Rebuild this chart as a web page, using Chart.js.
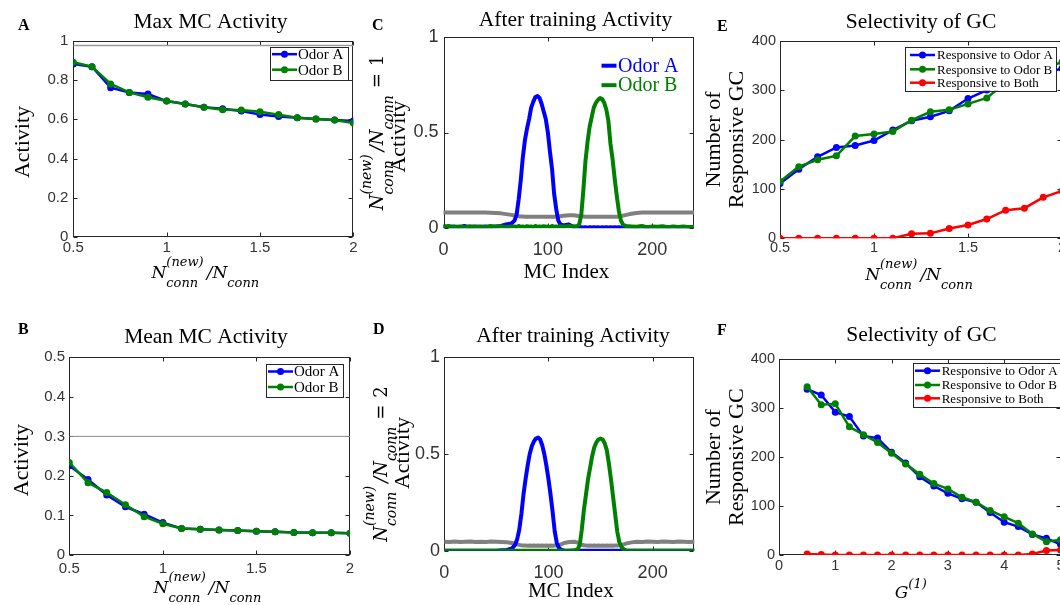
<!DOCTYPE html>
<html lang="en">
<head>
<meta charset="UTF-8">
<title>MC activity and GC selectivity</title>
<script src="https://cdn.jsdelivr.net/npm/chart.js"></script>
<style>
  html, body { margin: 0; padding: 0; background: #fff; }
  body { width: 1060px; height: 605px; overflow: hidden; position: relative; }
  canvas { position: absolute; }
</style>
</head>
<body>
<canvas id="chartA" width="365" height="300" style="left:0px;top:0px"></canvas>
<canvas id="chartB" width="365" height="305" style="left:0px;top:300px"></canvas>
<canvas id="chartC" width="360" height="300" style="left:350px;top:0px"></canvas>
<canvas id="chartD" width="360" height="305" style="left:350px;top:300px"></canvas>
<canvas id="chartE" width="380" height="300" style="left:700px;top:0px"></canvas>
<canvas id="chartF" width="380" height="305" style="left:700px;top:300px"></canvas>
<script>
// ---- data ----
// x axis of panels A, B, E: N_conn(new) / N_conn
const connRatio = [0.5, 0.6, 0.7, 0.8, 0.9, 1.0, 1.1, 1.2, 1.3, 1.4, 1.5, 1.6, 1.7, 1.8, 1.9, 2.0];

// A: max MC activity
const maxActA = [0.881, 0.868, 0.761, 0.737, 0.729, 0.693, 0.678, 0.661, 0.654, 0.642, 0.625, 0.614, 0.608, 0.602, 0.597, 0.592];
const maxActB = [0.890, 0.868, 0.780, 0.737, 0.712, 0.693, 0.678, 0.661, 0.649, 0.647, 0.639, 0.624, 0.608, 0.602, 0.597, 0.581];
const maxRef = 0.975;

// B: mean MC activity
const meanActA = [0.226, 0.191, 0.152, 0.122, 0.103, 0.082, 0.067, 0.065, 0.063, 0.062, 0.060, 0.059, 0.057, 0.056, 0.056, 0.055];
const meanActB = [0.234, 0.183, 0.158, 0.127, 0.097, 0.079, 0.067, 0.065, 0.063, 0.062, 0.060, 0.059, 0.057, 0.056, 0.056, 0.055];
const meanRef = 0.3;

// C, D: activity per MC index after training
const mcIndex = [0, 5, 10, 15, 20, 25, 30, 35, 40, 45, 50, 55, 60, 65,
  68, 70, 72, 74, 76, 78, 80, 82, 84, 86, 88, 90, 92, 94, 96, 98, 100, 102, 104, 106, 108, 110, 112,
  115, 120, 125,
  128, 130, 132, 134, 136, 138, 140, 142, 144, 146, 148, 150, 152, 154, 156, 158, 160, 162, 164, 166, 168, 170, 172,
  175, 180, 185, 190, 195, 200, 205, 210, 215, 220, 225, 230, 235, 240];

const trainA1 = [0.01, 0.005, 0.01, 0.006, 0.012, 0.005, 0.01, 0.007, 0.01, 0.006, 0.01, 0.012, 0.02, 0.025,
  0.04, 0.07, 0.15, 0.25, 0.37, 0.46, 0.52, 0.57, 0.63, 0.66, 0.685, 0.69, 0.68, 0.65, 0.61, 0.57, 0.50, 0.40, 0.31, 0.18, 0.10, 0.04, 0.02,
  0.015, 0.02, 0.006,
  0.005, 0.004, 0.006, 0.004, 0.005, 0.003, 0.005, 0.004, 0.006, 0.004, 0.005, 0.003, 0.005, 0.004, 0.006, 0.004, 0.005, 0.004, 0.006, 0.004, 0.005, 0.004, 0.005,
  0.006, 0.004, 0.005, 0.003, 0.006, 0.004, 0.005, 0.004, 0.006, 0.003, 0.005, 0.004, 0.006, 0.005];
const trainB1 = [0.008, 0.012, 0.006, 0.01, 0.005, 0.011, 0.007, 0.01, 0.006, 0.012, 0.008, 0.01, 0.006, 0.009,
  0.01, 0.007, 0.012, 0.008, 0.01, 0.006, 0.011, 0.008, 0.01, 0.006, 0.012, 0.008, 0.01, 0.007, 0.011, 0.008, 0.01, 0.006, 0.012, 0.008, 0.01, 0.007, 0.011,
  0.008, 0.012, 0.01,
  0.012, 0.02, 0.07, 0.20, 0.35, 0.45, 0.53, 0.58, 0.63, 0.655, 0.67, 0.68, 0.675, 0.655, 0.62, 0.56, 0.44, 0.36, 0.26, 0.17, 0.09, 0.04, 0.02,
  0.012, 0.01, 0.008, 0.012, 0.006, 0.01, 0.008, 0.011, 0.006, 0.01, 0.007, 0.009, 0.006, 0.008];
const trainGray1 = [0.082, 0.083, 0.082, 0.083, 0.082, 0.082, 0.083, 0.082, 0.082, 0.081, 0.080, 0.078, 0.074, 0.070,
  0.067, 0.065, 0.063, 0.062, 0.061, 0.060, 0.060, 0.060, 0.060, 0.060, 0.060, 0.060, 0.060, 0.060, 0.060, 0.060, 0.060, 0.060, 0.060, 0.060, 0.061, 0.062, 0.063,
  0.065, 0.068, 0.068,
  0.066, 0.064, 0.062, 0.061, 0.060, 0.060, 0.060, 0.060, 0.060, 0.060, 0.060, 0.060, 0.060, 0.060, 0.060, 0.060, 0.060, 0.060, 0.060, 0.060, 0.061, 0.063, 0.066,
  0.070, 0.076, 0.080, 0.082, 0.083, 0.083, 0.082, 0.083, 0.082, 0.083, 0.082, 0.083, 0.082, 0.083];

const trainA2 = [0, 0, 0, 0, 0, 0, 0, 0, 0, 0, 0, 0.002, 0.004, 0.012,
  0.03, 0.06, 0.11, 0.19, 0.29, 0.37, 0.44, 0.50, 0.54, 0.565, 0.58, 0.585, 0.575, 0.545, 0.50, 0.44, 0.37, 0.29, 0.20, 0.10, 0.04, 0.015, 0.005,
  0, 0, 0,
  0, 0, 0, 0, 0, 0, 0, 0, 0, 0, 0, 0, 0, 0, 0, 0, 0, 0, 0, 0, 0, 0, 0,
  0, 0, 0, 0, 0, 0, 0, 0, 0, 0, 0, 0, 0, 0];
const trainB2 = [0, 0, 0, 0, 0, 0, 0, 0, 0, 0, 0, 0, 0, 0,
  0, 0, 0, 0, 0, 0, 0, 0, 0, 0, 0, 0, 0, 0, 0, 0, 0, 0, 0, 0, 0, 0, 0,
  0, 0, 0.002,
  0.006, 0.03, 0.11, 0.21, 0.29, 0.37, 0.43, 0.49, 0.535, 0.56, 0.575, 0.58, 0.575, 0.555, 0.52, 0.45, 0.37, 0.28, 0.19, 0.10, 0.045, 0.02, 0.008,
  0, 0, 0, 0, 0, 0, 0, 0, 0, 0, 0, 0, 0, 0];
const trainGray2 = [0.046, 0.045, 0.047, 0.045, 0.046, 0.047, 0.045, 0.046, 0.045, 0.047, 0.046, 0.045, 0.044, 0.040,
  0.036, 0.033, 0.030, 0.028, 0.027, 0.027, 0.026, 0.027, 0.026, 0.027, 0.026, 0.027, 0.026, 0.027, 0.026, 0.027, 0.026, 0.027, 0.026, 0.027, 0.028, 0.030, 0.033,
  0.040, 0.045, 0.046,
  0.042, 0.036, 0.031, 0.028, 0.027, 0.026, 0.027, 0.026, 0.027, 0.026, 0.027, 0.026, 0.027, 0.026, 0.027, 0.026, 0.027, 0.026, 0.027, 0.027, 0.028, 0.030, 0.033,
  0.038, 0.043, 0.046, 0.045, 0.047, 0.046, 0.045, 0.047, 0.046, 0.045, 0.047, 0.046, 0.045, 0.046];

// E: responsive GC vs N_conn ratio
const respA_E = [111, 140, 165, 184, 188, 198, 219, 238, 246, 258, 283, 300, 312, 322, 333, 344];
const respB_E = [115, 145, 159, 167, 207, 211, 216, 239, 256, 260, 272, 284, 315, 328, 342, 357];
const respBoth_E = [0, 0, 0, 0, 0, 0, 0, 9, 10, 20, 27, 39, 57, 61, 83, 96];

// F: responsive GC vs G(1)
const gainG1 = [0.5, 0.75, 1, 1.25, 1.5, 1.75, 2, 2.25, 2.5, 2.75, 3, 3.25, 3.5, 3.75, 4, 4.25, 4.5, 4.75, 5];
const respA_F = [339, 327, 292, 283, 243, 239, 210, 188, 160, 141, 126, 115, 108, 87, 67, 58, 42, 34, 22];
const respB_F = [344, 307, 309, 262, 246, 230, 208, 186, 165, 146, 135, 118, 108, 91, 78, 65, 43, 27, 31];
const respBoth_F = [2, 1, 0, 0, 0, 0, 0, 0, 0, 0, 0, 0, 0, 0, 0, 0, 2, 9, 10];

const BLUE = '#0000ff', GREEN = '#008000', RED = '#ff0000', GRAY = '#808080';
const SERIF = '"Liberation Serif", "Times New Roman", serif';
const MATHF = '"DejaVu Serif", serif';
const SANS = '"Liberation Sans", Arial, sans-serif';

const pts = (xs, ys) => xs.map((x, i) => ({ x: x, y: ys[i] }));

// N_conn^(new) / N_conn written as math
const ratioTokens = [{ t: 'N' }, { sup: '(new)', sub: 'conn' }, { gap: 3 }, { t: '/N' }, { sub: 'conn' }];
const equals = n => [{ gap: 7 }, { t: '=', up: true }, { gap: 7 }, { t: n, up: true }];

function drawMath(ctx, tokens, x, y, size) {
    const main = 'italic ' + size + 'px ' + MATHF;
    const scr = 'italic ' + Math.round(size * 0.78) + 'px ' + MATHF;
    const up = size + 'px ' + MATHF;
    const widths = tokens.map(tk => {
        if (tk.gap) return tk.gap;
        if (tk.t !== undefined) { ctx.font = tk.up ? up : main; return ctx.measureText(tk.t).width; }
        ctx.font = scr;
        return Math.max(tk.sup ? ctx.measureText(tk.sup).width : 0, tk.sub ? ctx.measureText(tk.sub).width : 0);
    });
    const total = widths.reduce((s, w) => s + w, 0);
    let cx = x - total / 2;
    ctx.textAlign = 'left';
    ctx.textBaseline = 'alphabetic';
    tokens.forEach((tk, i) => {
        if (tk.t !== undefined) {
            ctx.font = tk.up ? up : main;
            ctx.fillText(tk.t, cx, y);
        } else if (!tk.gap) {
            ctx.font = scr;
            if (tk.sup) ctx.fillText(tk.sup, cx, y - size * (tk.sub ? 0.7 : 0.6));
            if (tk.sub) ctx.fillText(tk.sub, cx, y + size * 0.53);
        }
        cx += widths[i];
    });
}

function drawLabel(ctx, lab, x, y) {
    ctx.fillStyle = '#000';
    if (lab.math) {
        drawMath(ctx, lab.math, x, y, lab.size || 17);
    } else {
        ctx.font = (lab.size || 22) + 'px ' + SERIF;
        ctx.textAlign = 'center';
        ctx.textBaseline = 'alphabetic';
        ctx.fillText(lab.t, x, y);
    }
}

function drawLegend(ctx, chart, lg) {
    const a = chart.chartArea;
    const bx = a.left + lg.dx, by = a.top + lg.dy;
    const items = chart.data.datasets.filter(d => d.label);
    if (lg.w) {
        ctx.fillStyle = '#fff';
        ctx.fillRect(bx, by, lg.w, lg.h);
        ctx.strokeStyle = '#262626';
        ctx.lineWidth = 1;
        ctx.strokeRect(Math.round(bx) + 0.5, Math.round(by) + 0.5, Math.round(lg.w), Math.round(lg.h));
    }
    items.forEach((d, i) => {
        const y = by + lg.rows[i];
        ctx.strokeStyle = d.borderColor;
        ctx.lineWidth = d.borderWidth;
        ctx.beginPath();
        ctx.moveTo(bx + lg.x0, y);
        ctx.lineTo(bx + lg.x1, y);
        ctx.stroke();
        if (d.pointRadius) {
            ctx.fillStyle = d.borderColor;
            ctx.beginPath();
            ctx.arc(bx + (lg.x0 + lg.x1) / 2, y, d.pointRadius, 0, Math.PI * 2);
            ctx.fill();
        }
        ctx.fillStyle = lg.colorText ? d.borderColor : '#000';
        ctx.font = lg.size + 'px ' + SERIF;
        ctx.textAlign = 'left';
        ctx.textBaseline = 'middle';
        ctx.fillText(d.label, bx + lg.tx, y + 1);
    });
}

// MATLAB-like box and inward ticks under the data, then legend, titles and labels
const figPlugin = {
    id: 'fig',
    beforeDatasetsDraw(chart) {
        const ctx = chart.ctx, a = chart.chartArea;
        const xs = chart.scales.x, ys = chart.scales.y;
        ctx.save();
        const L = Math.round(a.left) + 0.5, T = Math.round(a.top) + 0.5;
        const R = Math.round(a.right) - 0.5, B = Math.round(a.bottom) - 0.5;
        ctx.strokeStyle = '#262626';
        ctx.lineWidth = 1;
        ctx.strokeRect(L, T, R - L, B - T);
        ctx.beginPath();
        xs.ticks.forEach(t => {
            const p = Math.round(xs.getPixelForValue(t.value)) + 0.5;
            ctx.moveTo(p, B); ctx.lineTo(p, B - 4);
            ctx.moveTo(p, T); ctx.lineTo(p, T + 4);
        });
        ys.ticks.forEach(t => {
            const p = Math.round(ys.getPixelForValue(t.value)) + 0.5;
            ctx.moveTo(L, p); ctx.lineTo(L + 4, p);
            ctx.moveTo(R, p); ctx.lineTo(R - 4, p);
        });
        ctx.stroke();
        ctx.restore();
    },
    afterDatasetsDraw(chart, args, o) {
        if (!o.legend) return;
        chart.ctx.save();
        drawLegend(chart.ctx, chart, o.legend);
        chart.ctx.restore();
    },
    afterDraw(chart, args, o) {
        const ctx = chart.ctx, a = chart.chartArea;
        const midX = (a.left + a.right) / 2, midY = (a.top + a.bottom) / 2;
        ctx.save();
        ctx.fillStyle = '#000';
        ctx.font = 'bold 16px ' + SERIF;
        ctx.textAlign = 'left';
        ctx.textBaseline = 'alphabetic';
        ctx.fillText(o.letter.t, o.letter.x, o.letter.y);
        ctx.font = '21.5px ' + SERIF;
        ctx.textAlign = 'center';
        ctx.fillText(o.title.t, midX + o.title.dx, a.top + o.title.dy);
        drawLabel(ctx, o.xlabel, midX + o.xlabel.dx, a.bottom + o.xlabel.dy);
        o.ylabel.forEach(lab => {
            ctx.save();
            ctx.translate(a.left + lab.dx, midY + (lab.dy || 0));
            ctx.rotate(-Math.PI / 2);
            drawLabel(ctx, lab, 0, 0);
            ctx.restore();
        });
        ctx.restore();
    }
};

const fmt = v => String(Math.round(v * 1000) / 1000);

function axis(min, max, step, size, pad, fit) {
    return {
        type: 'linear', min: min, max: max,
        grid: { display: false, drawTicks: false },
        border: { display: false },
        ticks: { stepSize: step, includeBounds: false, autoSkip: false, maxRotation: 0,
                 padding: pad, color: '#333', font: { family: SANS, size: size }, callback: fmt },
        afterFit: fit
    };
}

function markerSet(label, xs, ys, color, order) {
    return { label: label, data: pts(xs, ys), borderColor: color, backgroundColor: color,
             borderWidth: 2.5, pointRadius: 3.5, pointBorderWidth: 0, showLine: true, order: order };
}
function traceSet(label, xs, ys, color, order) {
    return { label: label, data: pts(xs, ys), borderColor: color, backgroundColor: color,
             borderWidth: 4, pointRadius: 0, showLine: true, order: order,
             borderJoinStyle: 'round', borderCapStyle: 'round' };
}
function refSet(x0, x1, y, color, width) {
    return { data: [{ x: x0, y: y }, { x: x1, y: y }], borderColor: color, borderWidth: width,
             pointRadius: 0, showLine: true, order: 9 };
}

function makePanel(id, p) {
    new Chart(document.getElementById(id), {
        type: 'scatter',
        data: { datasets: p.datasets },
        options: {
            responsive: false,
            animation: false,
            layout: { padding: { top: p.top, right: p.right, left: 0, bottom: 0 } },
            plugins: { legend: { display: false }, tooltip: { enabled: false }, fig: p.fig },
            scales: {
                x: axis(p.x[0], p.x[1], p.x[2], p.tick, p.xpad, s => { s.height = p.xh; }),
                y: axis(p.y[0], p.y[1], p.y[2], p.tick, p.ypad, s => { s.width = p.yw; })
            }
        },
        plugins: [figPlugin]
    });
}

const legend2 = { rows: [7.5, 23], x0: 2, x1: 27, tx: 28, size: 15 };

makePanel('chartA', {
    datasets: [
        markerSet('Odor A', connRatio, maxActA, BLUE, 2),
        markerSet('Odor B', connRatio, maxActB, GREEN, 1),
        refSet(0.5, 2, maxRef, '#9a9a9a', 1.5)
    ],
    x: [0.5, 2, 0.5], y: [0, 1, 0.2], tick: 15, xpad: 1.5, ypad: 5,
    yw: 73.3, xh: 62.7, top: 40.7, right: 11.7,
    fig: {
        letter: { t: 'A', x: 18, y: 30 },
        title: { t: 'Max MC Activity', dx: -2.8, dy: -12.4 },
        xlabel: { math: ratioTokens, dx: -8, dy: 40.7 },
        ylabel: [{ t: 'Activity', dx: -44.8, dy: 3 }],
        legend: Object.assign({ dx: 196.7, dy: 6, w: 78.3, h: 33.3 }, legend2)
    }
});

makePanel('chartB', {
    datasets: [
        markerSet('Odor A', connRatio, meanActA, BLUE, 2),
        markerSet('Odor B', connRatio, meanActB, GREEN, 1),
        refSet(0.5, 2, meanRef, '#8c8c8c', 1)
    ],
    x: [0.5, 2, 0.5], y: [0, 0.5, 0.1], tick: 15, xpad: 5, ypad: 4.3,
    yw: 69.3, xh: 50, top: 57.3, right: 15,
    fig: {
        letter: { t: 'B', x: 18, y: 34 },
        title: { t: 'Mean MC Activity', dx: -3.7, dy: -14.6 },
        xlabel: { math: ratioTokens, dx: -2.2, dy: 38.3 },
        ylabel: [{ t: 'Activity', dx: -41.3, dy: 4 }],
        legend: Object.assign({ dx: 196.7, dy: 6.7, w: 77.3, h: 33.3 }, legend2)
    }
});

makePanel('chartC', {
    datasets: [
        traceSet('Odor A', mcIndex, trainA1, BLUE, 2),
        traceSet('Odor B', mcIndex, trainB1, GREEN, 1),
        traceSet(undefined, mcIndex, trainGray1, GRAY, 3)
    ],
    x: [0, 240, 100], y: [0, 1, 0.5], tick: 18, xpad: 11, ypad: 5,
    yw: 93.5, xh: 71.7, top: 36.7, right: 16,
    fig: {
        letter: { t: 'C', x: 22, y: 30 },
        title: { t: 'After training Activity', dx: 6.7, dy: -10.7 },
        xlabel: { t: 'MC Index', size: 21, dx: -2.3, dy: 49.7 },
        ylabel: [{ math: ratioTokens.concat(equals('1')), size: 18, dx: -60.2, dy: 0 },
                 { t: 'Activity', dx: -38.5, dy: 4 }],
        legend: { dx: 158, dy: 29, rows: [0, 19.5], x0: 0, x1: 15, tx: 16.5, size: 20, colorText: true }
    }
});

makePanel('chartD', {
    datasets: [
        traceSet('Odor A', mcIndex, trainA2, BLUE, 2),
        traceSet('Odor B', mcIndex, trainB2, GREEN, 1),
        traceSet(undefined, mcIndex, trainGray2, GRAY, 3)
    ],
    x: [0, 240, 100], y: [0, 1, 0.5], tick: 18, xpad: 11.8, ypad: 4.3,
    yw: 94.3, xh: 54.3, top: 57.3, right: 15.7,
    fig: {
        letter: { t: 'D', x: 23, y: 34 },
        title: { t: 'After training Activity', dx: 3.7, dy: -15.6 },
        xlabel: { t: 'MC Index', size: 21, dx: 1.5, dy: 46 },
        ylabel: [{ math: ratioTokens.concat(equals('2')), size: 18, dx: -57.8, dy: 10 },
                 { t: 'Activity', dx: -35.3, dy: -1 }]
    }
});

const legend3 = { rows: [8.3, 22.6, 36], x0: 5, x1: 30, tx: 32, size: 13 };

makePanel('chartE', {
    datasets: [
        markerSet('Responsive to Odor A', connRatio, respA_E, BLUE, 3),
        markerSet('Responsive to Odor B', connRatio, respB_E, GREEN, 2),
        markerSet('Responsive to Both', connRatio, respBoth_E, RED, 1)
    ],
    x: [0.5, 2, 0.5], y: [0, 400, 100], tick: 14.5, xpad: 0.5, ypad: 4,
    yw: 80, xh: 61.7, top: 40.7, right: 18,
    fig: {
        letter: { t: 'E', x: 17, y: 30.7 },
        title: { t: 'Selectivity of GC', dx: 0, dy: -12.4 },
        xlabel: { math: ratioTokens, dx: -2, dy: 41.7 },
        ylabel: [{ t: 'Number of', dx: -60 }, { t: 'Responsive GC', dx: -37 }],
        legend: Object.assign({ dx: 125, dy: 6, w: 151, h: 44 }, legend3)
    }
});

makePanel('chartF', {
    datasets: [
        markerSet('Responsive to Odor A', gainG1, respA_F, BLUE, 3),
        markerSet('Responsive to Odor B', gainG1, respB_F, GREEN, 2),
        markerSet('Responsive to Both', gainG1, respBoth_F, RED, 1)
    ],
    x: [0, 5, 1], y: [0, 400, 100], tick: 14.5, xpad: 1.8, ypad: 4,
    yw: 79, xh: 50, top: 59.3, right: 19.5,
    fig: {
        letter: { t: 'F', x: 17, y: 35 },
        title: { t: 'Selectivity of GC', dx: 1.7, dy: -18.6 },
        xlabel: { math: [{ t: 'G' }, { sup: '(1)' }], dx: -9, dy: 42.7 },
        ylabel: [{ t: 'Number of', dx: -59 }, { t: 'Responsive GC', dx: -36.5 }],
        legend: Object.assign({ dx: 133.7, dy: 4, w: 152, h: 44 }, legend3, { rows: [7.4, 21.7, 35], x0: 2.3, x1: 27.3, tx: 29 })
    }
});
</script>
</body>
</html>
